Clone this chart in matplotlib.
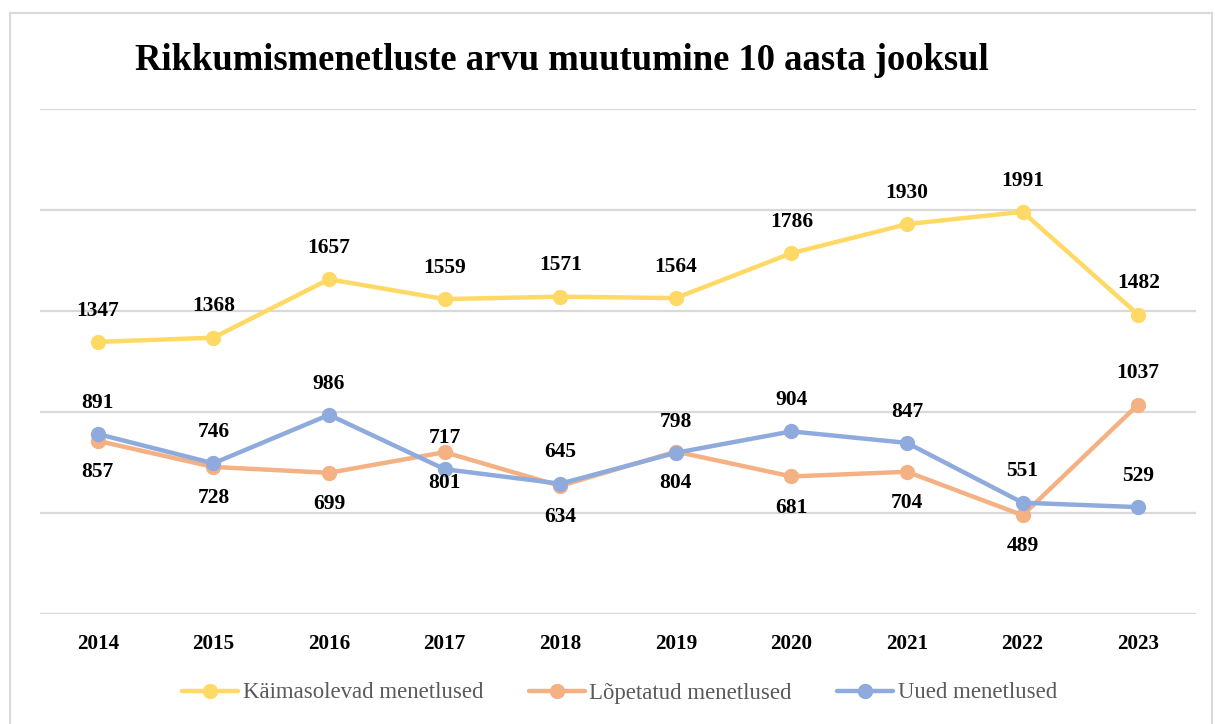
import matplotlib
matplotlib.use("Agg")
import matplotlib.pyplot as plt
from matplotlib.lines import Line2D

years = ["2014", "2015", "2016", "2017", "2018", "2019", "2020", "2021", "2022", "2023"]
kaimasolevad = [1347, 1368, 1657, 1559, 1571, 1564, 1786, 1930, 1991, 1482]
lopetatud = [857, 728, 699, 801, 634, 804, 681, 704, 489, 1037]
uued = [891, 746, 986, 717, 645, 798, 904, 847, 551, 529]
series_names = ["Käimasolevad menetlused", "Lõpetatud menetlused", "Uued menetlused"]
title = "Rikkumismenetluste arvu muutumine 10 aasta jooksul"

colors = ["#FFD966", "#F4B183", "#8FAADC"]
# label placement per point: +1 above, -1 below
pos_k = [1] * 10
pos_l = [-1, -1, -1, -1, -1, -1, -1, -1, -1, 1]
pos_u = [1] * 10

plt.rcParams['font.family'] = ['Liberation Serif', 'DejaVu Serif']

W, H = 1215, 724
fig = plt.figure(figsize=(W / 100, H / 100), dpi=100)
ax = fig.add_axes([40 / W, 110 / H, 1156 / W, 505 / H])

x = list(range(len(years)))
ax.set_xlim(-0.5, len(years) - 0.5)
ax.set_ylim(0, 2500)
ax.set_yticks([0, 500, 1000, 1500, 2000, 2500])
ax.yaxis.grid(True, color="#D9D9D9", linewidth=1.6)
ax.set_axisbelow(True)
ax.tick_params(axis='y', left=False, labelleft=False)
ax.tick_params(axis='x', bottom=False, pad=11)
ax.set_xticks(x)
ax.set_xticklabels(years, fontsize=15.2, fontweight='bold', color='#000000')
for s in ax.spines.values():
    s.set_visible(False)

data = [kaimasolevad, lopetatud, uued]
positions = [pos_k, pos_l, pos_u]
handles = []
for vals, c, name, z in zip(data, colors, series_names, [3, 3, 4]):
    h, = ax.plot(x, vals, color=c, linewidth=3.2, marker='o', markersize=10,
                 solid_capstyle='round', zorder=z, label=name)
    handles.append(h)

for vals, pos in zip(data, positions):
    for xi, v, p in zip(x, vals, pos):
        ax.annotate(str(v), (xi, v), xytext=(0, 22.5 * p), textcoords='offset points',
                    ha='center', va='center', fontsize=15.5, fontweight='bold',
                    color='#000000', zorder=6)

fig.text(135 / W, 1 - 60 / H, title, fontsize=26.4, fontweight='bold',
         ha='left', va='center', color='#000000')

leg = fig.legend(handles=handles, loc='center', bbox_to_anchor=(0.51, 1 - 693 / H),
                 ncol=3, frameon=False, fontsize=16.4, handlelength=2.45,
                 columnspacing=2.0, handletextpad=0.2)
for t in leg.get_texts():
    t.set_color('#595959')

# outer chart border
for xs, ys in [([10, 10], [13, 730]), ([10, 1212], [13, 13]), ([1212, 1212], [13, 730])]:
    fig.add_artist(Line2D([a / W for a in xs], [1 - b / H for b in ys],
                          color='#D9D9D9', linewidth=1.5))

fig.savefig("out.png", dpi=100)
